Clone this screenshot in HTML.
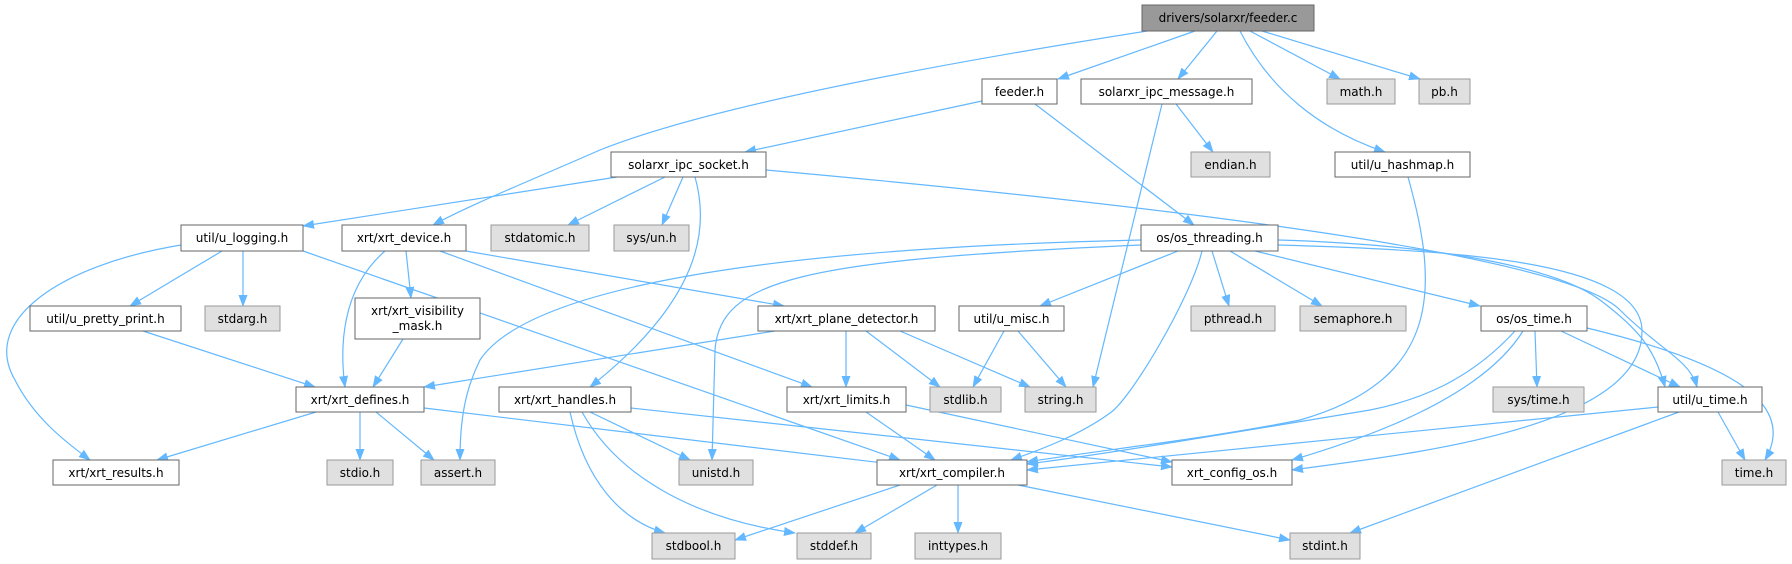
<!DOCTYPE html>
<html><head><meta charset="utf-8"><style>
html,body{margin:0;padding:0;background:#fff;width:1792px;height:564px;overflow:hidden}
text{font-family:"DejaVu Sans","Liberation Sans",sans-serif;font-size:12px;fill:#000}
.e{fill:none;stroke:#63b8ff;stroke-width:1.2}
</style></head><body>
<svg width="1792" height="564" viewBox="0 0 1792 564" xmlns="http://www.w3.org/2000/svg">
<defs><marker id="a" viewBox="0 0 12 10" refX="11" refY="5" markerWidth="12" markerHeight="10" markerUnits="userSpaceOnUse" orient="auto"><path d="M0,0.5 L12,5 L0,9.5 z" fill="#63b8ff"/></marker></defs>
<g class="e" marker-end="url(#a)">
<path d="M1147,31 C900,70 700,110 600,150 C520,185 470,205 433,225"/>
<path d="M1195,31 L1058,79"/>
<path d="M1217,31 L1178,79"/>
<path d="M1240,31 C1270,90 1320,130 1385,152"/>
<path d="M1250,31 L1340,79"/>
<path d="M1262,31 L1420,79"/>
<path d="M982,101 L745,152"/>
<path d="M1035,104 L1194,225"/>
<path d="M1162,104 L1093,387"/>
<path d="M1176,104 L1213,152"/>
<path d="M1408,177 C1440,290 1440,380 1300,420 C1200,440 1100,450 1027,462"/>
<path d="M617,177 L303,226"/>
<path d="M665,177 L568,225"/>
<path d="M683,177 L662,225"/>
<path d="M695,177 C710,230 700,300 590,387"/>
<path d="M766,170 C1100,200 1560,250 1620,310 C1660,350 1690,360 1697,387"/>
<path d="M1278,240 C1450,245 1560,270 1600,300 C1640,330 1655,350 1665,387"/>
<path d="M1278,245 C1450,250 1640,260 1642,330 C1645,430 1400,455 1292,470"/>
<path d="M181,245 C60,265 -20,320 15,380 C35,420 70,445 90,460"/>
<path d="M222,251 L130,306"/>
<path d="M243,251 L243,306"/>
<path d="M303,251 L900,460"/>
<path d="M385,251 C340,290 340,350 345,387"/>
<path d="M406,251 L411,298"/>
<path d="M440,251 L812,387"/>
<path d="M466,251 L784,306"/>
<path d="M143,331 L315,387"/>
<path d="M403,339 L373,387"/>
<path d="M775,331 L424,387"/>
<path d="M846,331 L846,387"/>
<path d="M866,331 L940,387"/>
<path d="M900,331 L1030,387"/>
<path d="M1141,240 C700,250 520,300 480,360 C465,390 460,420 460,460"/>
<path d="M1141,245 C800,260 720,280 715,350 L712,460"/>
<path d="M1178,251 L1040,306"/>
<path d="M1202,251 C1190,300 1130,400 1110,413 C1080,435 1040,450 1011,460"/>
<path d="M1212,251 L1229,306"/>
<path d="M1230,251 L1322,306"/>
<path d="M1255,251 L1480,306"/>
<path d="M1004,331 L973,387"/>
<path d="M1018,331 L1066,387"/>
<path d="M1515,331 C1470,380 1420,400 1370,410 C1250,430 1100,455 1027,464"/>
<path d="M1523,331 C1480,400 1360,440 1292,460"/>
<path d="M1535,331 L1537,387"/>
<path d="M1561,331 L1680,387"/>
<path d="M1587,328 C1720,360 1800,400 1765,460"/>
<path d="M1658,407 L1027,470"/>
<path d="M1718,412 L1745,460"/>
<path d="M1679,412 L1350,533"/>
<path d="M316,412 L157,460"/>
<path d="M360,412 L360,460"/>
<path d="M376,412 L434,460"/>
<path d="M424,408 L900,465"/>
<path d="M590,412 L690,460"/>
<path d="M570,412 C585,480 620,520 665,533"/>
<path d="M582,412 C620,480 700,520 795,533"/>
<path d="M631,408 L1172,467"/>
<path d="M866,412 L935,460"/>
<path d="M906,405 L1172,462"/>
<path d="M900,485 L735,540"/>
<path d="M937,485 L855,533"/>
<path d="M958,485 L958,533"/>
<path d="M1018,485 L1290,540"/>
</g>
<g stroke-width="1">
<rect x="1142" y="5" width="172" height="26" fill="#999" stroke="#666"/>
<g fill="#fff" stroke="#666">
<rect x="982" y="79" width="75" height="25"/>
<rect x="1081" y="79" width="171" height="25"/>
<rect x="1335" y="152" width="135" height="25"/>
<rect x="1141" y="225" width="137" height="26"/>
<rect x="611" y="152" width="155" height="25"/>
<rect x="181" y="225" width="122" height="26"/>
<rect x="342" y="225" width="124" height="26"/>
<rect x="30" y="306" width="151" height="25"/>
<rect x="355" y="298" width="125" height="41"/>
<rect x="758" y="306" width="177" height="25"/>
<rect x="959" y="306" width="105" height="25"/>
<rect x="1481" y="306" width="106" height="25"/>
<rect x="296" y="387" width="128" height="25"/>
<rect x="499" y="387" width="132" height="25"/>
<rect x="787" y="387" width="119" height="25"/>
<rect x="1658" y="387" width="104" height="25"/>
<rect x="53" y="460" width="126" height="25"/>
<rect x="877" y="460" width="150" height="25"/>
<rect x="1172" y="460" width="120" height="25"/>
</g>
<g fill="#e0e0e0" stroke="#999">
<rect x="1327" y="79" width="68" height="25"/>
<rect x="1419" y="79" width="51" height="25"/>
<rect x="1191" y="152" width="79" height="25"/>
<rect x="491" y="225" width="98" height="26"/>
<rect x="614" y="225" width="75" height="26"/>
<rect x="205" y="306" width="75" height="25"/>
<rect x="1191" y="306" width="84" height="25"/>
<rect x="1300" y="306" width="106" height="25"/>
<rect x="930" y="387" width="71" height="25"/>
<rect x="1025" y="387" width="71" height="25"/>
<rect x="1493" y="387" width="91" height="25"/>
<rect x="327" y="460" width="66" height="25"/>
<rect x="421" y="460" width="74" height="25"/>
<rect x="679" y="460" width="74" height="25"/>
<rect x="1722" y="460" width="64" height="25"/>
<rect x="652" y="533" width="83" height="26"/>
<rect x="797" y="533" width="74" height="26"/>
<rect x="915" y="533" width="86" height="26"/>
<rect x="1290" y="533" width="70" height="26"/>
</g>
</g>
<g text-anchor="middle">
<text x="1228" y="22">drivers/solarxr/feeder.c</text>
<text x="1019.5" y="96">feeder.h</text>
<text x="1166.5" y="96">solarxr_ipc_message.h</text>
<text x="1361" y="96">math.h</text>
<text x="1444.5" y="96">pb.h</text>
<text x="1230.5" y="169">endian.h</text>
<text x="1402.5" y="169">util/u_hashmap.h</text>
<text x="688.5" y="169">solarxr_ipc_socket.h</text>
<text x="242" y="242">util/u_logging.h</text>
<text x="404" y="242">xrt/xrt_device.h</text>
<text x="540" y="242">stdatomic.h</text>
<text x="651.5" y="242">sys/un.h</text>
<text x="1209.5" y="242">os/os_threading.h</text>
<text x="105.5" y="323">util/u_pretty_print.h</text>
<text x="242.5" y="323">stdarg.h</text>
<text x="417.5" y="315">xrt/xrt_visibility</text>
<text x="417.5" y="330">_mask.h</text>
<text x="846.5" y="323">xrt/xrt_plane_detector.h</text>
<text x="1011.5" y="323">util/u_misc.h</text>
<text x="1233" y="323">pthread.h</text>
<text x="1353" y="323">semaphore.h</text>
<text x="1534" y="323">os/os_time.h</text>
<text x="360" y="404">xrt/xrt_defines.h</text>
<text x="565" y="404">xrt/xrt_handles.h</text>
<text x="846.5" y="404">xrt/xrt_limits.h</text>
<text x="965.5" y="404">stdlib.h</text>
<text x="1060.5" y="404">string.h</text>
<text x="1538.5" y="404">sys/time.h</text>
<text x="1710" y="404">util/u_time.h</text>
<text x="116" y="477">xrt/xrt_results.h</text>
<text x="360" y="477">stdio.h</text>
<text x="458" y="477">assert.h</text>
<text x="716" y="477">unistd.h</text>
<text x="952" y="477">xrt/xrt_compiler.h</text>
<text x="1232" y="477">xrt_config_os.h</text>
<text x="1754" y="477">time.h</text>
<text x="693.5" y="550">stdbool.h</text>
<text x="834" y="550">stddef.h</text>
<text x="958" y="550">inttypes.h</text>
<text x="1325" y="550">stdint.h</text>
</g>
</svg>
</body></html>
